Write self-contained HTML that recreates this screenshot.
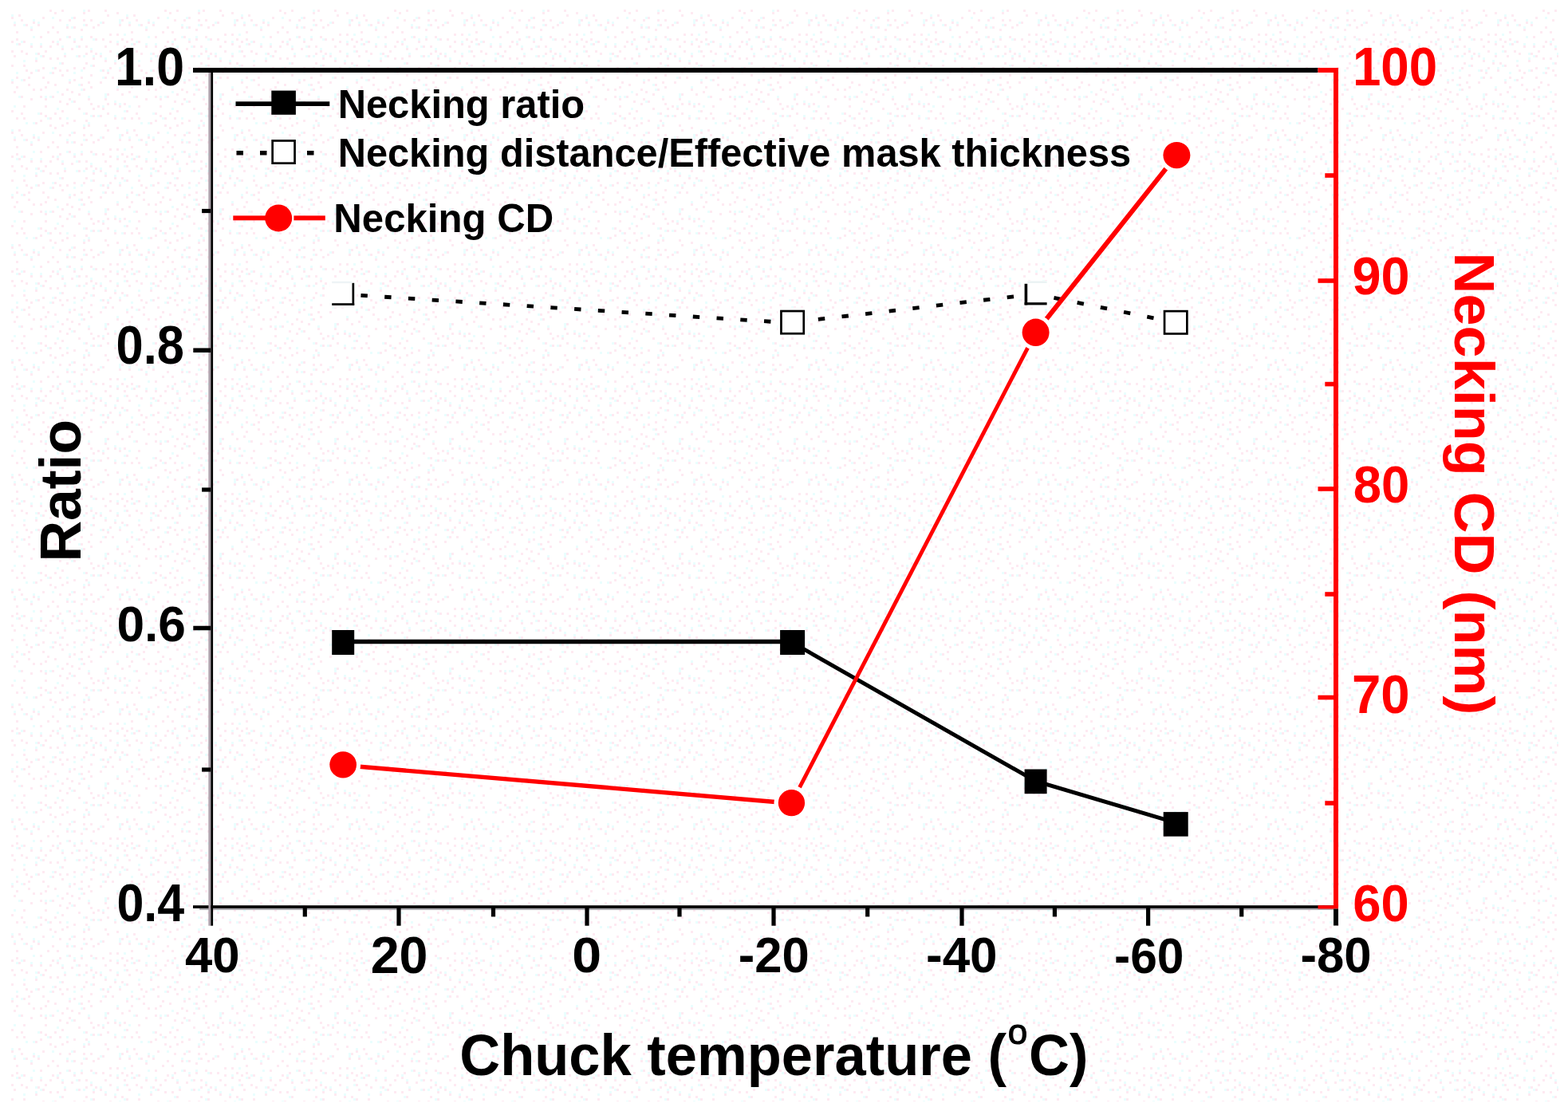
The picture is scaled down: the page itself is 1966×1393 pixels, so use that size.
<!DOCTYPE html>
<html lang="en"><head><meta charset="utf-8"><title>Necking ratio vs chuck temperature</title>
<style>
html,body{margin:0;padding:0;background:#fff;}
body{width:1966px;height:1393px;overflow:hidden;font-family:"Liberation Sans",Arial,sans-serif;}
svg{display:block;}
.t{font-family:"Liberation Sans",Arial,Helvetica,sans-serif;font-weight:bold;}
</style></head><body>
<svg width="1966" height="1393" viewBox="0 0 1966 1393">
<defs><pattern id="d" x="14" y="12" width="144.00" height="144.00" patternUnits="userSpaceOnUse"><path d="M0 9h3v3h-3zM0 39h3v3h-3zM0 51h3v3h-3zM0 69h3v3h-3zM0 90h3v3h-3zM0 126h3v3h-3zM3 18h3v3h-3zM3 57h3v3h-3zM3 102h3v3h-3zM6 27h3v3h-3zM6 36h3v3h-3zM6 84h3v3h-3zM6 96h3v3h-3zM6 135h3v3h-3zM9 6h3v3h-3zM9 42h3v3h-3zM12 12h3v3h-3zM12 51h3v3h-3zM12 108h3v3h-3zM12 129h3v3h-3zM15 39h3v3h-3zM15 69h3v3h-3zM15 87h3v3h-3zM15 120h3v3h-3zM15 135h3v3h-3zM18 18h3v3h-3zM18 54h3v3h-3zM18 75h3v3h-3zM21 84h3v3h-3zM21 93h3v3h-3zM24 24h3v3h-3zM24 45h3v3h-3zM24 78h3v3h-3zM24 111h3v3h-3zM27 15h3v3h-3zM27 99h3v3h-3zM30 63h3v3h-3zM30 141h3v3h-3zM33 18h3v3h-3zM33 54h3v3h-3zM33 75h3v3h-3zM36 33h3v3h-3zM36 45h3v3h-3zM36 99h3v3h-3zM36 108h3v3h-3zM36 129h3v3h-3zM36 138h3v3h-3zM39 9h3v3h-3zM39 57h3v3h-3zM39 72h3v3h-3zM39 84h3v3h-3zM42 51h3v3h-3zM42 96h3v3h-3zM42 111h3v3h-3zM42 120h3v3h-3zM42 132h3v3h-3zM45 27h3v3h-3zM45 90h3v3h-3zM48 0h3v3h-3zM48 45h3v3h-3zM48 60h3v3h-3zM48 135h3v3h-3zM51 21h3v3h-3zM51 39h3v3h-3zM51 78h3v3h-3zM51 108h3v3h-3zM54 3h3v3h-3zM54 72h3v3h-3zM54 93h3v3h-3zM54 129h3v3h-3zM57 27h3v3h-3zM57 42h3v3h-3zM57 60h3v3h-3zM60 12h3v3h-3zM60 36h3v3h-3zM60 75h3v3h-3zM60 114h3v3h-3zM60 135h3v3h-3zM63 0h3v3h-3zM63 48h3v3h-3zM63 66h3v3h-3zM63 81h3v3h-3zM63 105h3v3h-3zM63 126h3v3h-3zM66 57h3v3h-3zM69 21h3v3h-3zM69 75h3v3h-3zM69 99h3v3h-3zM69 117h3v3h-3zM69 141h3v3h-3zM72 12h3v3h-3zM72 33h3v3h-3zM72 90h3v3h-3zM72 111h3v3h-3zM75 48h3v3h-3zM75 102h3v3h-3zM78 9h3v3h-3zM78 21h3v3h-3zM78 39h3v3h-3zM78 72h3v3h-3zM78 87h3v3h-3zM78 114h3v3h-3zM78 138h3v3h-3zM84 45h3v3h-3zM84 57h3v3h-3zM84 105h3v3h-3zM84 123h3v3h-3zM87 24h3v3h-3zM87 36h3v3h-3zM87 84h3v3h-3zM87 93h3v3h-3zM90 3h3v3h-3zM90 12h3v3h-3zM90 72h3v3h-3zM90 99h3v3h-3zM93 18h3v3h-3zM93 45h3v3h-3zM93 54h3v3h-3zM93 66h3v3h-3zM93 129h3v3h-3zM93 138h3v3h-3zM96 0h3v3h-3zM96 90h3v3h-3zM96 111h3v3h-3zM99 12h3v3h-3zM99 33h3v3h-3zM99 51h3v3h-3zM99 81h3v3h-3zM99 96h3v3h-3zM99 117h3v3h-3zM102 21h3v3h-3zM102 60h3v3h-3zM102 69h3v3h-3zM102 123h3v3h-3zM102 132h3v3h-3zM105 36h3v3h-3zM105 54h3v3h-3zM108 18h3v3h-3zM108 120h3v3h-3zM111 57h3v3h-3zM111 90h3v3h-3zM111 132h3v3h-3zM114 15h3v3h-3zM114 36h3v3h-3zM114 75h3v3h-3zM114 123h3v3h-3zM117 0h3v3h-3zM117 45h3v3h-3zM117 63h3v3h-3zM117 84h3v3h-3zM117 111h3v3h-3zM120 6h3v3h-3zM120 78h3v3h-3zM120 105h3v3h-3zM120 117h3v3h-3zM120 129h3v3h-3zM123 30h3v3h-3zM123 39h3v3h-3zM123 51h3v3h-3zM123 72h3v3h-3zM126 84h3v3h-3zM129 66h3v3h-3zM129 117h3v3h-3zM129 135h3v3h-3zM132 3h3v3h-3zM132 30h3v3h-3zM132 42h3v3h-3zM132 57h3v3h-3zM132 99h3v3h-3zM135 18h3v3h-3zM135 75h3v3h-3zM135 120h3v3h-3zM138 12h3v3h-3zM138 36h3v3h-3zM138 66h3v3h-3zM138 105h3v3h-3zM141 45h3v3h-3zM141 117h3v3h-3zM141 135h3v3h-3z" fill="#feeaf2" shape-rendering="crispEdges"/><path d="M0 6h3v3h-3zM0 87h3v3h-3zM3 15h3v3h-3zM3 120h3v3h-3zM6 42h3v3h-3zM6 78h3v3h-3zM9 108h3v3h-3zM12 39h3v3h-3zM12 87h3v3h-3zM15 18h3v3h-3zM15 63h3v3h-3zM18 141h3v3h-3zM24 21h3v3h-3zM24 42h3v3h-3zM27 12h3v3h-3zM27 33h3v3h-3zM27 141h3v3h-3zM30 54h3v3h-3zM30 60h3v3h-3zM30 75h3v3h-3zM33 15h3v3h-3zM33 129h3v3h-3zM36 42h3v3h-3zM36 57h3v3h-3zM42 108h3v3h-3zM45 135h3v3h-3zM48 78h3v3h-3zM48 108h3v3h-3zM51 9h3v3h-3zM51 72h3v3h-3zM57 39h3v3h-3zM57 102h3v3h-3zM57 123h3v3h-3zM60 66h3v3h-3zM63 45h3v3h-3zM66 54h3v3h-3zM69 18h3v3h-3zM69 33h3v3h-3zM69 135h3v3h-3zM72 87h3v3h-3zM75 9h3v3h-3zM75 21h3v3h-3zM75 114h3v3h-3zM78 36h3v3h-3zM78 78h3v3h-3zM81 45h3v3h-3zM81 57h3v3h-3zM84 93h3v3h-3zM87 33h3v3h-3zM87 75h3v3h-3zM87 99h3v3h-3zM90 0h3v3h-3zM90 18h3v3h-3zM90 57h3v3h-3zM90 129h3v3h-3zM96 108h3v3h-3zM96 141h3v3h-3zM99 48h3v3h-3zM99 69h3v3h-3zM99 132h3v3h-3zM102 36h3v3h-3zM102 57h3v3h-3zM108 132h3v3h-3zM111 15h3v3h-3zM111 54h3v3h-3zM111 75h3v3h-3zM114 84h3v3h-3zM114 120h3v3h-3zM117 60h3v3h-3zM117 105h3v3h-3zM117 108h3v3h-3zM120 75h3v3h-3zM129 63h3v3h-3zM129 114h3v3h-3zM129 132h3v3h-3zM132 39h3v3h-3zM132 54h3v3h-3zM132 96h3v3h-3zM135 12h3v3h-3zM135 15h3v3h-3zM135 72h3v3h-3zM135 117h3v3h-3zM138 135h3v3h-3zM141 30h3v3h-3zM141 51h3v3h-3zM141 69h3v3h-3zM141 126h3v3h-3z" fill="#eafefe" shape-rendering="crispEdges"/></pattern></defs>
<rect x="0" y="0" width="1966" height="1393" fill="#fff"/>
<rect x="14" y="12" width="1940" height="1369" fill="url(#d)"/>
<rect x="242.00" y="85.00" width="1410.50" height="6.00" fill="#000"/>
<rect x="1652.50" y="85.00" width="25.50" height="6.00" fill="#ff0000"/>
<rect x="242.00" y="1135.20" width="1430.00" height="3.70" fill="#000"/>
<rect x="250.00" y="1138.90" width="1422.00" height="2.00" fill="#a9a8ad"/>
<rect x="264.20" y="85.00" width="2.90" height="1075.70" fill="#000"/>
<rect x="261.40" y="91.00" width="2.80" height="1069.70" fill="#ab9fa9"/>
<rect x="1672.00" y="85.00" width="6.00" height="1054.50" fill="#ff0000"/>
<rect x="1652.50" y="1135.20" width="19.50" height="4.30" fill="#ff0000"/>
<rect x="1672.00" y="1139.50" width="6.00" height="21.00" fill="#000"/>
<rect x="242.30" y="436.45" width="21.90" height="5.50" fill="#000"/>
<rect x="242.30" y="784.75" width="21.90" height="5.50" fill="#000"/>
<rect x="253.10" y="261.90" width="11.10" height="5.20" fill="#000"/>
<rect x="253.10" y="611.40" width="11.10" height="5.20" fill="#000"/>
<rect x="253.10" y="962.40" width="11.10" height="5.20" fill="#000"/>
<rect x="1652.50" y="349.20" width="19.50" height="5.60" fill="#ff0000"/>
<rect x="1652.50" y="610.20" width="19.50" height="5.60" fill="#ff0000"/>
<rect x="1652.50" y="871.70" width="19.50" height="5.60" fill="#ff0000"/>
<rect x="1661.30" y="217.20" width="10.70" height="5.60" fill="#ff0000"/>
<rect x="1661.30" y="478.80" width="10.70" height="5.60" fill="#ff0000"/>
<rect x="1661.30" y="742.20" width="10.70" height="5.60" fill="#ff0000"/>
<rect x="1661.30" y="1004.20" width="10.70" height="5.60" fill="#ff0000"/>
<rect x="497.40" y="1138.00" width="5.20" height="22.70" fill="#000"/>
<rect x="733.40" y="1138.00" width="5.20" height="22.70" fill="#000"/>
<rect x="967.40" y="1138.00" width="5.20" height="22.70" fill="#000"/>
<rect x="1203.40" y="1138.00" width="5.20" height="22.70" fill="#000"/>
<rect x="1437.00" y="1138.00" width="5.20" height="22.70" fill="#000"/>
<rect x="379.70" y="1138.00" width="5.20" height="11.40" fill="#000"/>
<rect x="615.90" y="1138.00" width="5.20" height="11.40" fill="#000"/>
<rect x="849.40" y="1138.00" width="5.20" height="11.40" fill="#000"/>
<rect x="1085.10" y="1138.00" width="5.20" height="11.40" fill="#000"/>
<rect x="1319.80" y="1138.00" width="5.20" height="11.40" fill="#000"/>
<rect x="1554.10" y="1138.00" width="5.20" height="11.40" fill="#000"/>
<text class="t" font-size="62" fill="#000" transform="translate(143.96,107.35) scale(1.0101,1.0994)">1.0</text>
<text class="t" font-size="62" fill="#000" transform="translate(145.52,455.95) scale(0.9908,1.0971)">0.8</text>
<text class="t" font-size="62" fill="#000" transform="translate(146.39,803.69) scale(1.0049,1.0240)">0.6</text>
<text class="t" font-size="62" fill="#000" transform="translate(146.44,1154.75) scale(0.9838,1.0903)">0.4</text>
<text class="t" font-size="62" fill="#ff0000" transform="translate(1695.89,106.85) scale(1.0274,1.0926)">100</text>
<text class="t" font-size="62" fill="#ff0000" transform="translate(1695.45,368.97) scale(1.0459,1.0697)">90</text>
<text class="t" font-size="62" fill="#ff0000" transform="translate(1696.65,629.88) scale(1.0233,1.0309)">80</text>
<text class="t" font-size="62" fill="#ff0000" transform="translate(1694.91,893.55) scale(1.0525,1.0949)">70</text>
<text class="t" font-size="62" fill="#ff0000" transform="translate(1696.30,1154.77) scale(1.0210,1.0583)">60</text>
<text class="t" font-size="62" fill="#000" transform="translate(232.00,1219.29) scale(0.9954,1.0171)">40</text>
<text class="t" font-size="62" fill="#000" transform="translate(464.66,1219.68) scale(1.0412,1.0354)">20</text>
<text class="t" font-size="62" fill="#000" transform="translate(717.23,1219.19) scale(1.0678,1.0286)">0</text>
<text class="t" font-size="62" fill="#000" transform="translate(925.72,1219.49) scale(0.9929,1.0286)">-20</text>
<text class="t" font-size="62" fill="#000" transform="translate(1161.00,1219.49) scale(1.0000,1.0286)">-40</text>
<text class="t" font-size="62" fill="#000" transform="translate(1397.06,1219.79) scale(0.9763,1.0240)">-60</text>
<text class="t" font-size="62" fill="#000" transform="translate(1630.51,1219.49) scale(0.9941,1.0286)">-80</text>
<text class="t" font-size="49" fill="#000" transform="translate(423.66,147.56) scale(0.9972,1.0383)">Necking ratio</text>
<text class="t" font-size="49" fill="#000" transform="translate(423.67,209.03) scale(0.9953,1.0317)">Necking distance/Effective mask thickness</text>
<text class="t" font-size="49" fill="#000" transform="translate(418.34,290.86) scale(1.0032,1.0383)">Necking CD</text>
<text class="t" font-size="72" fill="#000" transform="translate(576.26,1347.94) scale(0.9795,1.0037)">Chuck temperature (<tspan x="702.01" y="-38.50" font-size="45" style="font-weight:normal;stroke:#000;stroke-width:1.1">o</tspan><tspan x="728.65" y="0">C)</tspan></text>
<text class="t" font-size="72" fill="#000" text-anchor="middle" transform="translate(100.8,615.2) rotate(-90) scale(0.993,1)">Ratio</text>
<text class="t" font-size="72" fill="#ff0000" transform="translate(1824.2,316.6) rotate(90) scale(1,0.97)">Necking CD (nm)</text>
<line x1="430.2" y1="368.9" x2="993.6" y2="405.0" stroke="#000" stroke-width="4.8" stroke-dasharray="8.4 21.4" stroke-dashoffset="-22.3"/>
<line x1="993.6" y1="404.2" x2="1298.6" y2="368.6" stroke="#000" stroke-width="4.8" stroke-dasharray="8.4 21.4" stroke-dashoffset="-2.7"/>
<line x1="1298.6" y1="368.8" x2="1474.4" y2="404.5" stroke="#000" stroke-width="4.8" stroke-dasharray="8.4 21.4" stroke-dashoffset="-23.3"/>
<rect x="413.2" y="349.8" width="34.0" height="36.099999999999966" fill="#fff"/>
<rect x="441.50" y="354.80" width="2.70" height="28.10" fill="#000"/>
<rect x="416.20" y="380.20" width="28.00" height="2.70" fill="#000"/>
<rect x="416.20" y="352.70" width="25.30" height="2.50" fill="#eef3f6"/>
<rect x="975.1" y="385.7" width="37.0" height="36.900000000000034" fill="#fff"/>
<rect x="979.45" y="390.05" width="28.30" height="28.20" fill="#fff" stroke="#000" stroke-width="2.7"/>
<rect x="1281.6" y="351.8" width="34.0" height="33.599999999999966" fill="#fff"/>
<rect x="1284.60" y="355.80" width="3.60" height="26.60" fill="#000"/>
<rect x="1284.60" y="379.20" width="28.00" height="3.20" fill="#000"/>
<rect x="1288.20" y="352.40" width="24.40" height="2.60" fill="#ebf3f4"/>
<rect x="1455.7" y="385.8" width="37.0" height="37.0" fill="#fff"/>
<rect x="1460.05" y="390.15" width="28.30" height="28.30" fill="#fff" stroke="#000" stroke-width="2.7"/>
<polyline points="430.2,804.4 993.6,804.4" fill="none" stroke="#000" stroke-width="5.5"/>
<polyline points="993.6,805.8 1298.6,979.4 1474.4,1031.6" fill="none" stroke="#000" stroke-width="5"/>
<rect x="416.20" y="790.00" width="28.00" height="31.00" fill="#000"/>
<rect x="978.10" y="790.00" width="31.00" height="31.00" fill="#000"/>
<rect x="1284.60" y="964.50" width="28.00" height="30.70" fill="#000"/>
<rect x="1458.70" y="1018.10" width="31.00" height="30.60" fill="#000"/>
<line x1="430.2" y1="959.5" x2="992.5" y2="1007.2" stroke="#ff0000" stroke-width="5.4"/>
<line x1="992.5" y1="1006.6" x2="1298.6" y2="416.8" stroke="#ff0000" stroke-width="4.9"/>
<line x1="1298.6" y1="416.8" x2="1475.4" y2="194.5" stroke="#ff0000" stroke-width="6.0"/>
<circle cx="430.15" cy="958.85" r="22" fill="#fff"/>
<ellipse cx="430.15" cy="958.85" rx="16.85" ry="16.65" fill="#ff0000"/>
<circle cx="992.45" cy="1006.65" r="22" fill="#fff"/>
<ellipse cx="992.45" cy="1006.65" rx="16.65" ry="16.65" fill="#ff0000"/>
<circle cx="1298.60" cy="416.80" r="22" fill="#fff"/>
<ellipse cx="1298.60" cy="416.80" rx="17.00" ry="17.20" fill="#ff0000"/>
<circle cx="1475.40" cy="194.55" r="22" fill="#fff"/>
<ellipse cx="1475.40" cy="194.55" rx="17.00" ry="16.65" fill="#ff0000"/>
<rect x="295.50" y="127.30" width="117.80" height="5.70" fill="#000"/>
<rect x="340.30" y="113.60" width="30.60" height="30.20" fill="#000"/>
<line x1="296.5" y1="191.8" x2="413" y2="191.8" stroke="#000" stroke-width="5.4" stroke-dasharray="8.5 21" stroke-dashoffset="0"/>
<rect x="338.3" y="173.1" width="34.599999999999966" height="34.900000000000006" fill="#fff"/>
<rect x="341.65" y="176.45" width="27.90" height="28.20" fill="#fff" stroke="#000" stroke-width="2.7"/>
<rect x="292.30" y="270.40" width="115.50" height="5.90" fill="#ff0000"/>
<rect x="362.00" y="268.00" width="6.40" height="11.00" fill="#fff"/>
<circle cx="349.2" cy="273.4" r="17" fill="#ff0000"/>
</svg>
</body></html>
